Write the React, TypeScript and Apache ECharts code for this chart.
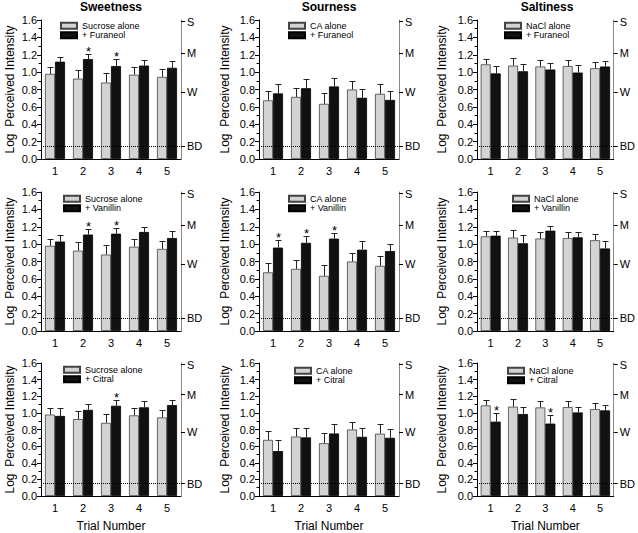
import React, { useEffect, useRef } from "react";
import * as echarts from "echarts";

const trials = ["1", "2", "3", "4", "5"];
const tasteTitles = ["Sweetness", "Sourness", "Saltiness"];
const aloneNames = ["Sucrose alone", "CA alone", "NaCl alone"];
const odorNames = ["+ Furaneol", "+ Vanillin", "+ Citral"];

// alone (control) values, same in each row
const sucroseAlone = [0.98, 0.925, 0.88, 0.97, 0.945];
const sucroseAloneErr = [0.08, 0.095, 0.11, 0.09, 0.095];
const caAlone = [0.675, 0.715, 0.635, 0.8, 0.75];
const caAloneErr = [0.11, 0.105, 0.125, 0.095, 0.115];
const naclAlone = [1.09, 1.075, 1.065, 1.07, 1.045];
const naclAloneErr = [0.065, 0.09, 0.075, 0.07, 0.07];

// + Furaneol
const furaneolSweet = [1.12, 1.15, 1.07, 1.075, 1.05];
const furaneolSweetErr = [0.058, 0.054, 0.077, 0.07, 0.073];
const furaneolSour = [0.755, 0.815, 0.835, 0.705, 0.68];
const furaneolSourErr = [0.11, 0.105, 0.1, 0.1, 0.105];
const furaneolSalt = [0.985, 1.01, 1.03, 0.995, 1.065];
const furaneolSaltErr = [0.085, 0.08, 0.08, 0.09, 0.065];

// + Vanillin
const vanillinSweet = [1.03, 1.11, 1.12, 1.14, 1.07];
const vanillinSweetErr = [0.08, 0.065, 0.07, 0.06, 0.08];
const vanillinSour = [0.96, 1.015, 1.063, 0.936, 0.92];
const vanillinSourErr = [0.09, 0.08, 0.07, 0.095, 0.085];
const vanillinSalt = [1.097, 1.01, 1.155, 1.078, 0.95];
const vanillinSaltErr = [0.055, 0.09, 0.055, 0.06, 0.09];

// + Citral
const citralSweet = [0.963, 1.036, 1.086, 1.067, 1.094];
const citralSweetErr = [0.09, 0.065, 0.065, 0.07, 0.065];
const citralSour = [0.54, 0.705, 0.752, 0.712, 0.7];
const citralSourErr = [0.13, 0.115, 0.11, 0.105, 0.105];
const citralSalt = [0.894, 0.986, 0.871, 1.005, 1.03];
const citralSaltErr = [0.1, 0.085, 0.1, 0.068, 0.064];

// significance markers (1 = asterisk above odor bar)
const sigFuraneolSweet = [0, 1, 1, 0, 0];
const sigFuraneolSour = [0, 0, 0, 0, 0];
const sigFuraneolSalt = [0, 0, 0, 0, 0];
const sigVanillinSweet = [0, 1, 1, 0, 0];
const sigVanillinSour = [1, 1, 1, 0, 0];
const sigVanillinSalt = [0, 0, 0, 0, 0];
const sigCitralSweet = [0, 0, 1, 0, 0];
const sigCitralSour = [0, 0, 0, 0, 0];
const sigCitralSalt = [1, 0, 1, 0, 0];

const glmsValues = [0.15, 0.77, 1.22, 1.58];
const glmsLabels = ["BD", "W", "M", "S"];
const bdLevel = 0.15;

const aloneData = [
  [sucroseAlone, sucroseAloneErr],
  [caAlone, caAloneErr],
  [naclAlone, naclAloneErr],
];
const odorData = [
  [
    [furaneolSweet, furaneolSweetErr, sigFuraneolSweet],
    [furaneolSour, furaneolSourErr, sigFuraneolSour],
    [furaneolSalt, furaneolSaltErr, sigFuraneolSalt],
  ],
  [
    [vanillinSweet, vanillinSweetErr, sigVanillinSweet],
    [vanillinSour, vanillinSourErr, sigVanillinSour],
    [vanillinSalt, vanillinSaltErr, sigVanillinSalt],
  ],
  [
    [citralSweet, citralSweetErr, sigCitralSweet],
    [citralSour, citralSourErr, sigCitralSour],
    [citralSalt, citralSaltErr, sigCitralSalt],
  ],
];

const FONT = "Liberation Sans, Arial, sans-serif";
const gridLefts = [41, 259, 477];
const gridTops = [20, 192, 363];
const GW = 140;
const GH = 139;
const nameGaps = [25, 28, 29];
const legendPos = [
  [[60, 21], [288, 21], [504, 21]],
  [[63, 194], [288, 194], [512, 194]],
  [[63, 365], [294, 366], [507, 366]],
];

function buildOption() {
  const grid: any[] = [];
  const xAxis: any[] = [];
  const yAxis: any[] = [];
  const series: any[] = [];
  const legend: any[] = [];
  const title: any[] = [];

  for (let c = 0; c < 3; c++) {
    title.push({
      text: tasteTitles[c],
      left: gridLefts[c] + GW / 2,
      top: 1,
      textAlign: "center",
      padding: 0,
      textStyle: { fontFamily: FONT, fontSize: 12, fontWeight: "bold", color: "#000" },
    });
  }

  for (let r = 0; r < 3; r++) {
    for (let c = 0; c < 3; c++) {
      const idx = r * 3 + c;
      grid.push({ left: gridLefts[c], top: gridTops[r], width: GW, height: GH });
      xAxis.push({
        type: "category",
        gridIndex: idx,
        data: trials,
        name: r === 2 ? "Trial Number" : "",
        nameLocation: "middle",
        nameGap: 24,
        nameMoveOverlap: false,
        nameTextStyle: { fontFamily: FONT, fontSize: 12, color: "#000" },
        axisLine: { lineStyle: { color: "#000", width: 1 } },
        axisTick: { alignWithLabel: true, length: 4, lineStyle: { color: "#000" } },
        axisLabel: { fontFamily: FONT, fontSize: 11, color: "#000", margin: 6 },
        splitLine: { show: false },
      });
      yAxis.push({
        type: "value",
        gridIndex: idx,
        min: 0,
        max: 1.6,
        interval: 0.2,
        position: "left",
        name: "Log  Perceived Intensity",
        nameLocation: "middle",
        nameGap: nameGaps[c],
        nameTextStyle: { fontFamily: FONT, fontSize: 12, color: "#000" },
        axisLine: { show: true, lineStyle: { color: "#000", width: 1 } },
        axisTick: { show: true, length: 4, lineStyle: { color: "#000" } },
        minorTick: { show: true, splitNumber: 2, length: 2.5, lineStyle: { color: "#000" } },
        axisLabel: {
          fontFamily: FONT,
          fontSize: 11,
          color: "#000",
          margin: 4,
          formatter: (v: number) => v.toFixed(1),
        },
        splitLine: { show: false },
      });
      yAxis.push({
        type: "value",
        gridIndex: idx,
        min: 0,
        max: 1.6,
        position: "right",
        axisLine: { show: true, lineStyle: { color: "#888", width: 1 } },
        axisTick: {
          show: true,
          inside: false,
          length: 4,
          customValues: glmsValues,
          lineStyle: { color: "#000" },
        },
        axisLabel: {
          fontFamily: FONT,
          fontSize: 11,
          color: "#000",
          margin: 6,
          customValues: glmsValues,
          formatter: (v: number) => {
            let best = 0;
            for (let k = 0; k < glmsValues.length; k++) {
              if (Math.abs(glmsValues[k] - v) < Math.abs(glmsValues[best] - v)) best = k;
            }
            return glmsLabels[best];
          },
        },
        splitLine: { show: false },
      });

      const [aVals, aErr] = aloneData[c];
      const [oVals, oErr, sig] = odorData[r][c];
      const yIdx = idx * 2;

      // BD dotted line (behind bars)
      series.push({
        type: "line",
        name: "bd" + idx,
        xAxisIndex: idx,
        yAxisIndex: yIdx,
        data: [],
        z: 1,
        silent: true,
        markLine: {
          silent: true,
          symbol: "none",
          label: { show: false },
          lineStyle: { type: "dotted", color: "#000", width: 1 },
          data: [{ yAxis: bdLevel }],
        },
      });
      series.push({
        type: "bar",
        name: aloneNames[c],
        xAxisIndex: idx,
        yAxisIndex: yIdx,
        data: aVals,
        barWidth: 10,
        barGap: "0%",
        z: 2,
        itemStyle: { color: "#d3d3d3", borderColor: "#444", borderWidth: 0.8 },
      });
      series.push({
        type: "bar",
        name: odorNames[r],
        xAxisIndex: idx,
        yAxisIndex: yIdx,
        data: oVals,
        barWidth: 10,
        barGap: "0%",
        z: 2,
        itemStyle: { color: "#111", borderColor: "#000", borderWidth: 0.8 },
      });
      series.push({
        type: "custom",
        name: "err" + idx,
        xAxisIndex: idx,
        yAxisIndex: yIdx,
        z: 3,
        silent: true,
        data: trials.map((_, i) => [i, aVals[i], aErr[i], oVals[i], oErr[i], sig[i]]),
        renderItem: (params: any, api: any) => {
          const i = api.value(0);
          const children: any[] = [];
          const pairs: [number, number][] = [
            [1, -5],
            [3, 5],
          ];
          let blackTop = 0;
          let blackX = 0;
          for (const [k, off] of pairs) {
            const v = api.value(k);
            const e = api.value(k + 1);
            const p0 = api.coord([i, v]);
            const p1 = api.coord([i, v + e]);
            const x = Math.round(p0[0] + off) + 0.5;
            const y1 = Math.round(p1[1]) + 0.5;
            children.push({
              type: "line",
              shape: { x1: x, y1: p0[1], x2: x, y2: y1 },
              style: { stroke: "#222", lineWidth: 1 },
            });
            children.push({
              type: "line",
              shape: { x1: x - 3, y1: y1, x2: x + 3, y2: y1 },
              style: { stroke: "#222", lineWidth: 1 },
            });
            if (k === 3) {
              blackTop = y1;
              blackX = x;
            }
          }
          if (api.value(5)) {
            children.push({
              type: "text",
              x: blackX,
              y: blackTop + 3,
              style: {
                text: "*",
                textAlign: "center",
                textVerticalAlign: "bottom",
                fontSize: 13,
                fontFamily: FONT,
                fill: "#000",
              },
            });
          }
          return { type: "group", children };
        },
      });

      legend.push({
        left: legendPos[r][c][0],
        top: legendPos[r][c][1],
        orient: "vertical",
        itemWidth: 16,
        itemHeight: 6,
        itemGap: 0,
        padding: 0,
        selectedMode: false,
        icon: "rect",
        data: [
          { name: aloneNames[c], textStyle: { color: "#000" } },
          { name: odorNames[r], textStyle: { color: "#000" } },
        ],
        textStyle: { fontFamily: FONT, fontSize: 9, color: "#000", lineHeight: 9.5 },
      });
    }
  }

  return {
    animation: false,
    backgroundColor: "#fff",
    title,
    grid,
    xAxis,
    yAxis,
    legend,
    series,
  };
}

export default function App() {
  const ref = useRef<HTMLDivElement>(null);
  useEffect(() => {
    document.body.style.margin = "0";
    if (!ref.current) return;
    const chart = echarts.init(ref.current, undefined, { renderer: "svg" });
    chart.setOption(buildOption() as any);
    return () => chart.dispose();
  }, []);
  return <div ref={ref} style={{ width: 638, height: 533, position: "absolute", left: 0, top: 0 }} />;
}
